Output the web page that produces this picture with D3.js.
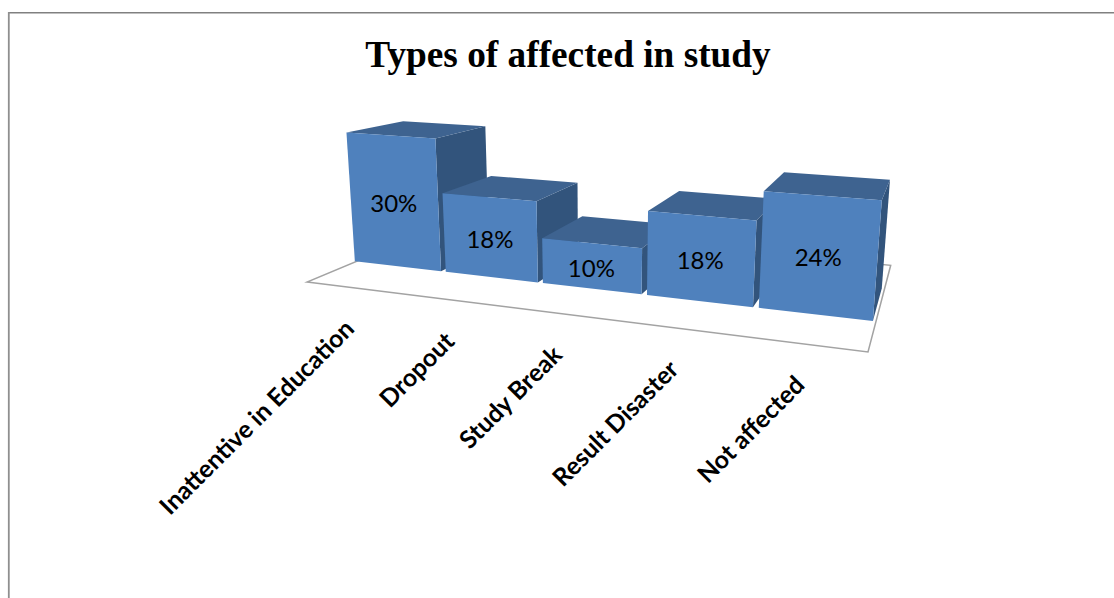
<!DOCTYPE html>
<html>
<head>
<meta charset="utf-8">
<script src="https://cdn.jsdelivr.net/npm/d3@7"></script>
<style>
  html, body { margin: 0; padding: 0; background: #fff; }
  svg { display: block; }
</style>
</head>
<body>
<svg id="chart" width="1114" height="598"></svg>
<script>
const categories = ["Inattentive in Education", "Dropout", "Study Break", "Result Disaster", "Not affected"];
const percents = [30, 18, 10, 18, 24];
const chartTitle = "Types of affected in study";

const svg = d3.select("#chart");

// Floor outline on screen: front-left, front-right, back-right, back-left.
const floorQuad = [[307, 282], [868, 352], [890.7, 265.3], [450, 222.4]];
// Point on screen where the vertical edges of the columns converge.
const verticalVanish = [600, 4030];

// Projective map from the unit floor square to the screen.
function floorHomography([[x0, y0], [x1, y1], [x2, y2], [x3, y3]]) {
  const dx1 = x1 - x2, dx2 = x3 - x2, sx = x0 - x1 + x2 - x3;
  const dy1 = y1 - y2, dy2 = y3 - y2, sy = y0 - y1 + y2 - y3;
  const den = dx1 * dy2 - dx2 * dy1;
  const g = (sx * dy2 - dx2 * sy) / den;
  const h = (dx1 * sy - sx * dy1) / den;
  return {
    a: x1 - x0 + g * x1, b: x3 - x0 + h * x3, c: x0,
    d: y1 - y0 + g * y1, e: y3 - y0 + h * y3, f: y0,
    g, h
  };
}
const H = floorHomography(floorQuad);

// World scales: x across the floor, z into the floor, y as column height.
const xBand = d3.scaleBand().domain(categories).range([-0.008, 1]).paddingInner(0.05).paddingOuter(0.025);
const yScale = d3.scaleLinear().domain([0, 30]).range([0, 0.0358]);
const columnDepth = [0.29, 0.67];

function project(x, y, z) {
  const w = H.g * x + H.h * z + 1;
  const e = yScale(y);
  const u = H.a * x + H.b * z + H.c;
  const v = H.d * x + H.e * z + H.f;
  return [(u - e * verticalVanish[0]) / (w - e), (v - e * verticalVanish[1]) / (w - e)];
}

const facePath = pts => "M" + pts.map(p => p.map(n => n.toFixed(2)).join(",")).join("L") + "Z";

// Chart frame: only the top and left edges fall inside the page.
svg.append("line").attr("x1", 8).attr("y1", 12.7).attr("x2", 1114).attr("y2", 12.7)
  .attr("stroke", "#808080").attr("stroke-width", 1.4);
svg.append("line").attr("x1", 8.8).attr("y1", 12).attr("x2", 8.8).attr("y2", 598)
  .attr("stroke", "#8f8f8f").attr("stroke-width", 1.8);

svg.append("text")
  .attr("x", 568).attr("y", 67)
  .attr("text-anchor", "middle")
  .attr("font-family", "'Liberation Serif', serif")
  .attr("font-weight", 700)
  .attr("font-size", 37.3)
  .attr("fill", "#000")
  .text(chartTitle);

// Floor
svg.append("path")
  .attr("d", facePath([[0, 0], [1, 0], [1, 1], [0, 1]].map(([x, z]) => project(x, 0, z))))
  .attr("fill", "#fff")
  .attr("stroke", "#a3a3a3")
  .attr("stroke-width", 1.5);

// Columns, painted left to right so each front covers its neighbour's side.
const [zFront, zBack] = columnDepth;
const columns = svg.append("g").selectAll("g")
  .data(categories.map((name, i) => ({ name, value: percents[i] })))
  .join("g");

columns.each(function (d) {
  const g = d3.select(this);
  const x0 = xBand(d.name), x1 = x0 + xBand.bandwidth();
  const v = d.value;
  g.append("path")
    .attr("fill", "#32547c")
    .attr("d", facePath([project(x1, 0, zFront), project(x1, 0, zBack), project(x1, v, zBack), project(x1, v, zFront)]));
  g.append("path")
    .attr("fill", "#3e6390")
    .attr("d", facePath([project(x0, v, zFront), project(x1, v, zFront), project(x1, v, zBack), project(x0, v, zBack)]));
  g.append("path")
    .attr("fill", "#4f81bd")
    .attr("d", facePath([project(x0, 0, zFront), project(x1, 0, zFront), project(x1, v, zFront), project(x0, v, zFront)]));
  const c = project((x0 + x1) / 2, v / 2, zFront);
  g.append("text")
    .attr("x", c[0]).attr("y", c[1] + 1)
    .attr("text-anchor", "middle")
    .attr("dominant-baseline", "central")
    .attr("font-family", "Lato, 'Open Sans', sans-serif")
    .attr("font-size", 24)
    .attr("fill", "#000")
    .text(d.value + "%");
});

// Category labels hang from the floor's front edge at 45 degrees.
svg.append("g").selectAll("text")
  .data(categories)
  .join("text")
  .attr("transform", d => {
    const p = project(xBand(d) + xBand.bandwidth() / 2, 0, 0);
    return `translate(${p[0] + 5},${p[1] + 43}) rotate(-45)`;
  })
  .attr("text-anchor", "end")
  .attr("font-family", "Lato, 'Open Sans', sans-serif")
  .attr("font-weight", 700)
  .attr("font-size", 24.8)
  .attr("fill", "#000")
  .text(d => d);
</script>
</body>
</html>
